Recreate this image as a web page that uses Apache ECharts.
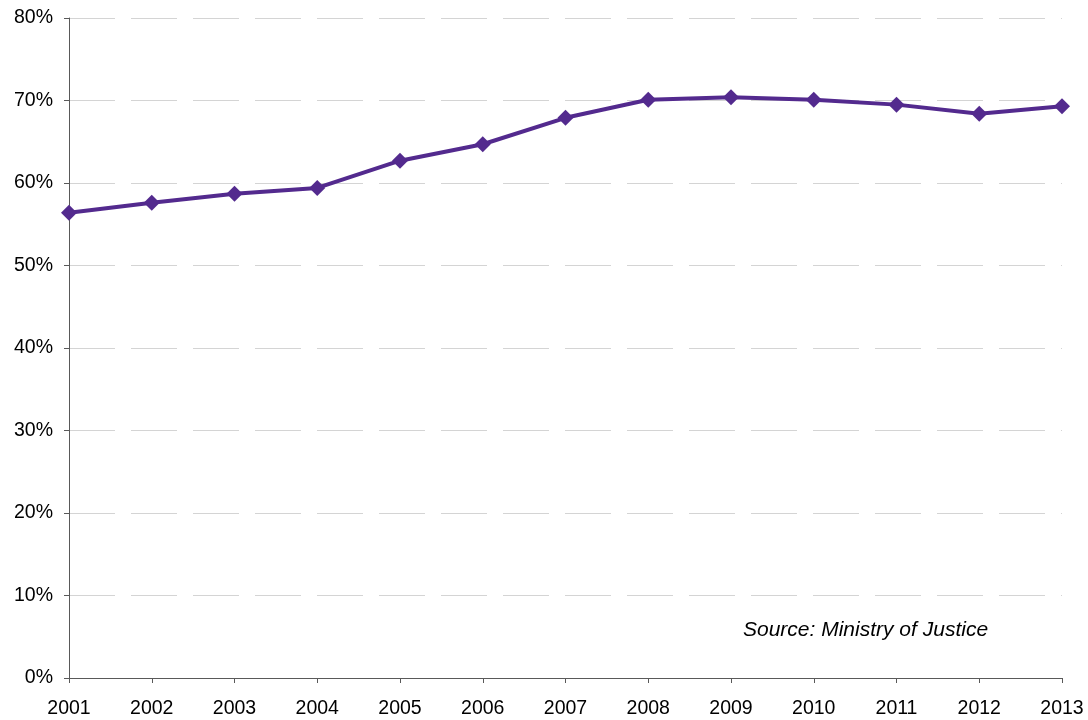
<!DOCTYPE html>
<html>
<head>
<meta charset="utf-8">
<script src="https://cdn.jsdelivr.net/npm/echarts@6/dist/echarts.min.js"></script>
<style>html,body{margin:0;padding:0;background:#fff}#c{width:1088px;height:720px}</style>
</head>
<body>
<div id="c"></div>
<script>
const years = ['2001','2002','2003','2004','2005','2006','2007','2008','2009','2010','2011','2012','2013'];
const values = [56.4, 57.6, 58.7, 59.4, 62.7, 64.7, 67.9, 70.1, 70.4, 70.1, 69.5, 68.4, 69.3];
const sourceText = 'Source: Ministry of Justice';

const chart = echarts.init(document.getElementById('c'));
chart.setOption({
  animation: false,
  backgroundColor: '#ffffff',
  grid: { left: 69, right: 26, top: 18, bottom: 42, containLabel: false },
  xAxis: {
    type: 'category',
    data: years,
    boundaryGap: false,
    axisLine: { lineStyle: { color: '#595959', width: 1 } },
    axisTick: { show: true, length: 5, alignWithLabel: true, lineStyle: { color: '#595959' } },
    axisLabel: { color: '#000', fontFamily: 'Liberation Sans', fontSize: 19.5, margin: 21 },
    splitLine: { show: false }
  },
  yAxis: {
    type: 'value',
    min: 0, max: 80, interval: 10,
    axisLine: { show: true, lineStyle: { color: '#595959', width: 1 } },
    axisTick: { show: true, length: 5, lineStyle: { color: '#595959' } },
    axisLabel: { color: '#000', fontFamily: 'Liberation Sans', fontSize: 19.5, margin: 16, padding: [3, 0, 0, 0], formatter: '{value}%' },
    splitLine: { show: true, lineStyle: { color: '#d4d4d4', width: 1, type: [46, 16] } }
  },
  graphic: [{
    type: 'text',
    left: 743, top: 620,
    style: { text: sourceText, fill: '#000', font: 'italic 21px "Liberation Sans"' }
  }],
  series: [{
    type: 'line',
    data: values,
    symbol: 'diamond',
    symbolSize: 16,
    lineStyle: { color: '#532a8e', width: 4 },
    itemStyle: { color: '#532a8e' }
  }]
});
</script>
</body>
</html>
